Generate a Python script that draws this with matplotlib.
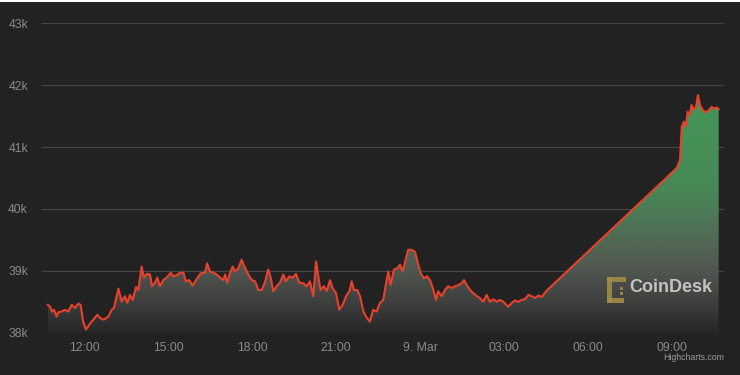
import numpy as np
import matplotlib.pyplot as plt
from matplotlib.colors import LinearSegmentedColormap
from matplotlib.patches import Polygon, Rectangle

# BTC price, hours after 12:00 on 8 Mar (negative = before noon)
hours = [-1.29, -1.21, -1.14, -1.07, -0.98, -0.92, -0.80, -0.68, -0.56, -0.44,
         -0.32, -0.20, -0.12, -0.03, 0.07, 0.19, 0.33, 0.48, 0.57, 0.71,
         0.87, 0.99, 1.07, 1.23, 1.35, 1.46, 1.55, 1.64, 1.74, 1.86,
         1.94, 2.06, 2.14, 2.24, 2.36, 2.43, 2.54, 2.62, 2.71, 2.83,
         2.95, 3.10, 3.19, 3.31, 3.43, 3.55, 3.64, 3.76, 3.88, 4.00,
         4.17, 4.32, 4.40, 4.50, 4.62, 4.74, 4.86, 4.98, 5.04, 5.12,
         5.21, 5.31, 5.39, 5.51, 5.63, 5.75, 5.87, 5.99, 6.11, 6.23,
         6.35, 6.46, 6.58, 6.67, 6.76, 6.88, 7.00, 7.12, 7.21, 7.33,
         7.45, 7.57, 7.69, 7.83, 7.95, 8.07, 8.19, 8.29, 8.37, 8.45,
         8.57, 8.67, 8.79, 8.88, 9.00, 9.12, 9.24, 9.36, 9.48, 9.56,
         9.64, 9.76, 9.86, 9.98, 10.10, 10.21, 10.33, 10.45, 10.57, 10.69,
         10.79, 10.87, 10.95, 11.07, 11.19, 11.29, 11.38, 11.50, 11.58, 11.70,
         11.82, 11.94, 12.03, 12.14, 12.26, 12.36, 12.48, 12.57, 12.65, 12.78,
         12.89, 13.01, 13.13, 13.25, 13.37, 13.49, 13.57, 13.67, 13.79, 13.90,
         14.03, 14.14, 14.26, 14.38, 14.50, 14.62, 14.74, 14.86, 14.98, 15.15,
         15.28, 15.39, 15.51, 15.63, 15.75, 15.87, 15.99, 16.11, 16.23, 16.35,
         16.46, 16.55, 21.17, 21.29, 21.35, 21.43, 21.50, 21.56, 21.64, 21.70,
         21.79, 21.86, 21.93, 22.00, 22.10, 22.19, 22.30, 22.42, 22.50, 22.60,
         22.67]
prices = [38450, 38420, 38340, 38370, 38260, 38330, 38340, 38370, 38340, 38450,
          38400, 38470, 38450, 38180, 38050, 38130, 38210, 38290, 38240, 38210,
          38260, 38370, 38400, 38710, 38500, 38590, 38480, 38610, 38530, 38740,
          38690, 39070, 38890, 38950, 38940, 38750, 38810, 38890, 38750, 38850,
          38890, 38970, 38910, 38930, 38970, 38970, 38830, 38850, 38760, 38850,
          38960, 38970, 39120, 38990, 38970, 38940, 38890, 38850, 38940, 38810,
          38960, 39070, 38990, 39040, 39180, 39050, 38940, 38850, 38830, 38690,
          38690, 38810, 39020, 38890, 38670, 38750, 38810, 38940, 38830, 38910,
          38890, 38950, 38810, 38800, 38750, 38830, 38590, 39150, 38910, 38690,
          38750, 38670, 38850, 38720, 38640, 38370, 38450, 38590, 38670, 38830,
          38690, 38690, 38590, 38340, 38240, 38180, 38370, 38340, 38480, 38530,
          38800, 38990, 38770, 39020, 39040, 39100, 38990, 39200, 39340, 39340,
          39310, 39100, 38960, 38880, 38910, 38850, 38690, 38530, 38670, 38590,
          38690, 38750, 38720, 38750, 38770, 38800, 38850, 38770, 38690, 38640,
          38590, 38560, 38500, 38610, 38500, 38540, 38500, 38530, 38500, 38420,
          38480, 38520, 38500, 38530, 38540, 38610, 38590, 38560, 38600, 38580,
          38640, 38690, 40660, 40790, 41330, 41410, 41330, 41570, 41520, 41680,
          41600, 41650, 41840, 41680, 41600, 41560, 41590, 41650, 41620, 41640,
          41610]

tick_hours = [0, 3, 6, 9, 12, 15, 18, 21]
tick_labels = ['12:00', '15:00', '18:00', '21:00', '9. Mar', '03:00', '06:00', '09:00']
y_ticks = [38000, 39000, 40000, 41000, 42000, 43000]
y_labels = ['38k', '39k', '40k', '41k', '42k', '43k']

bg = '#222222'
fig = plt.figure(figsize=(7.4, 3.75), dpi=100, facecolor=bg)
ax = fig.add_axes([42 / 740, 42 / 375, 682 / 740, 310 / 375], facecolor=bg)
ax.set_xlim(-1.5, 22.86)
ax.set_ylim(37995, 43005)

x = np.array(hours)
y = np.array(prices)

# gradient fill under the line
stops = [(0.0, (38, 38, 38)), (0.128, (62, 63, 62)), (0.256, (80, 86, 80)),
         (0.385, (80, 106, 84)), (0.59, (72, 136, 86)), (1.0, (68, 152, 88))]
cmap = LinearSegmentedColormap.from_list('fill', [(p, np.array(c) / 255) for p, c in stops])
grad = np.linspace(0, 1, 256).reshape(-1, 1)
verts = np.vstack([np.column_stack([x, y]), [[x[-1], 37995], [x[0], 37995]]])
poly = Polygon(verts, closed=True, facecolor='none', edgecolor='none')
ax.add_patch(poly)
im = ax.imshow(grad, extent=[x[0], x[-1], 38000, 41900], origin='lower',
               aspect='auto', cmap=cmap, zorder=1)
im.set_clip_path(poly)

ax.plot(x, y, color='#e8412c', lw=1.5, zorder=3)

ax.set_xticks(tick_hours)
ax.set_xticklabels(tick_labels)
ax.set_yticks(y_ticks)
ax.set_yticklabels(y_labels)
ax.tick_params(axis='both', length=0, colors='#8a8a8a', labelsize=8.8)
ax.tick_params(axis='x', pad=6.5)
ax.tick_params(axis='y', pad=10)
for lab in ax.get_xticklabels() + ax.get_yticklabels():
    lab.set_fontfamily('Liberation Sans')
ax.grid(axis='y', color='#474747', lw=0.8, zorder=0)
ax.set_axisbelow(True)
for s in ax.spines.values():
    s.set_visible(False)

# watermark logo
gold = '#a08c46'
for (x0, y0, w, h) in [(607, 277, 5, 26), (607, 277, 19, 5), (607, 298, 17, 5),
                       (620, 287, 3, 3), (620, 292, 3, 3)]:
    fig.add_artist(Rectangle((x0 / 740, 1 - (y0 + h) / 375), w / 740, h / 375,
                             transform=fig.transFigure, color=gold, alpha=0.9, lw=0))
fig.text(629 / 740, 1 - 288 / 375, 'CoinDesk', color='#c4c4bf', fontsize=13,
         fontweight='bold', family='Liberation Sans', va='center', ha='left')
fig.text(724 / 740, 1 - 358 / 375, 'Highcharts.com', color='#9a9a9a', fontsize=6.3,
         family='Liberation Sans', va='center', ha='right')

fig.add_artist(Rectangle((0, 1 - 2 / 375), 1, 2 / 375, transform=fig.transFigure,
                         color='white', lw=0))

fig.savefig('out.png', dpi=100, facecolor=bg)
